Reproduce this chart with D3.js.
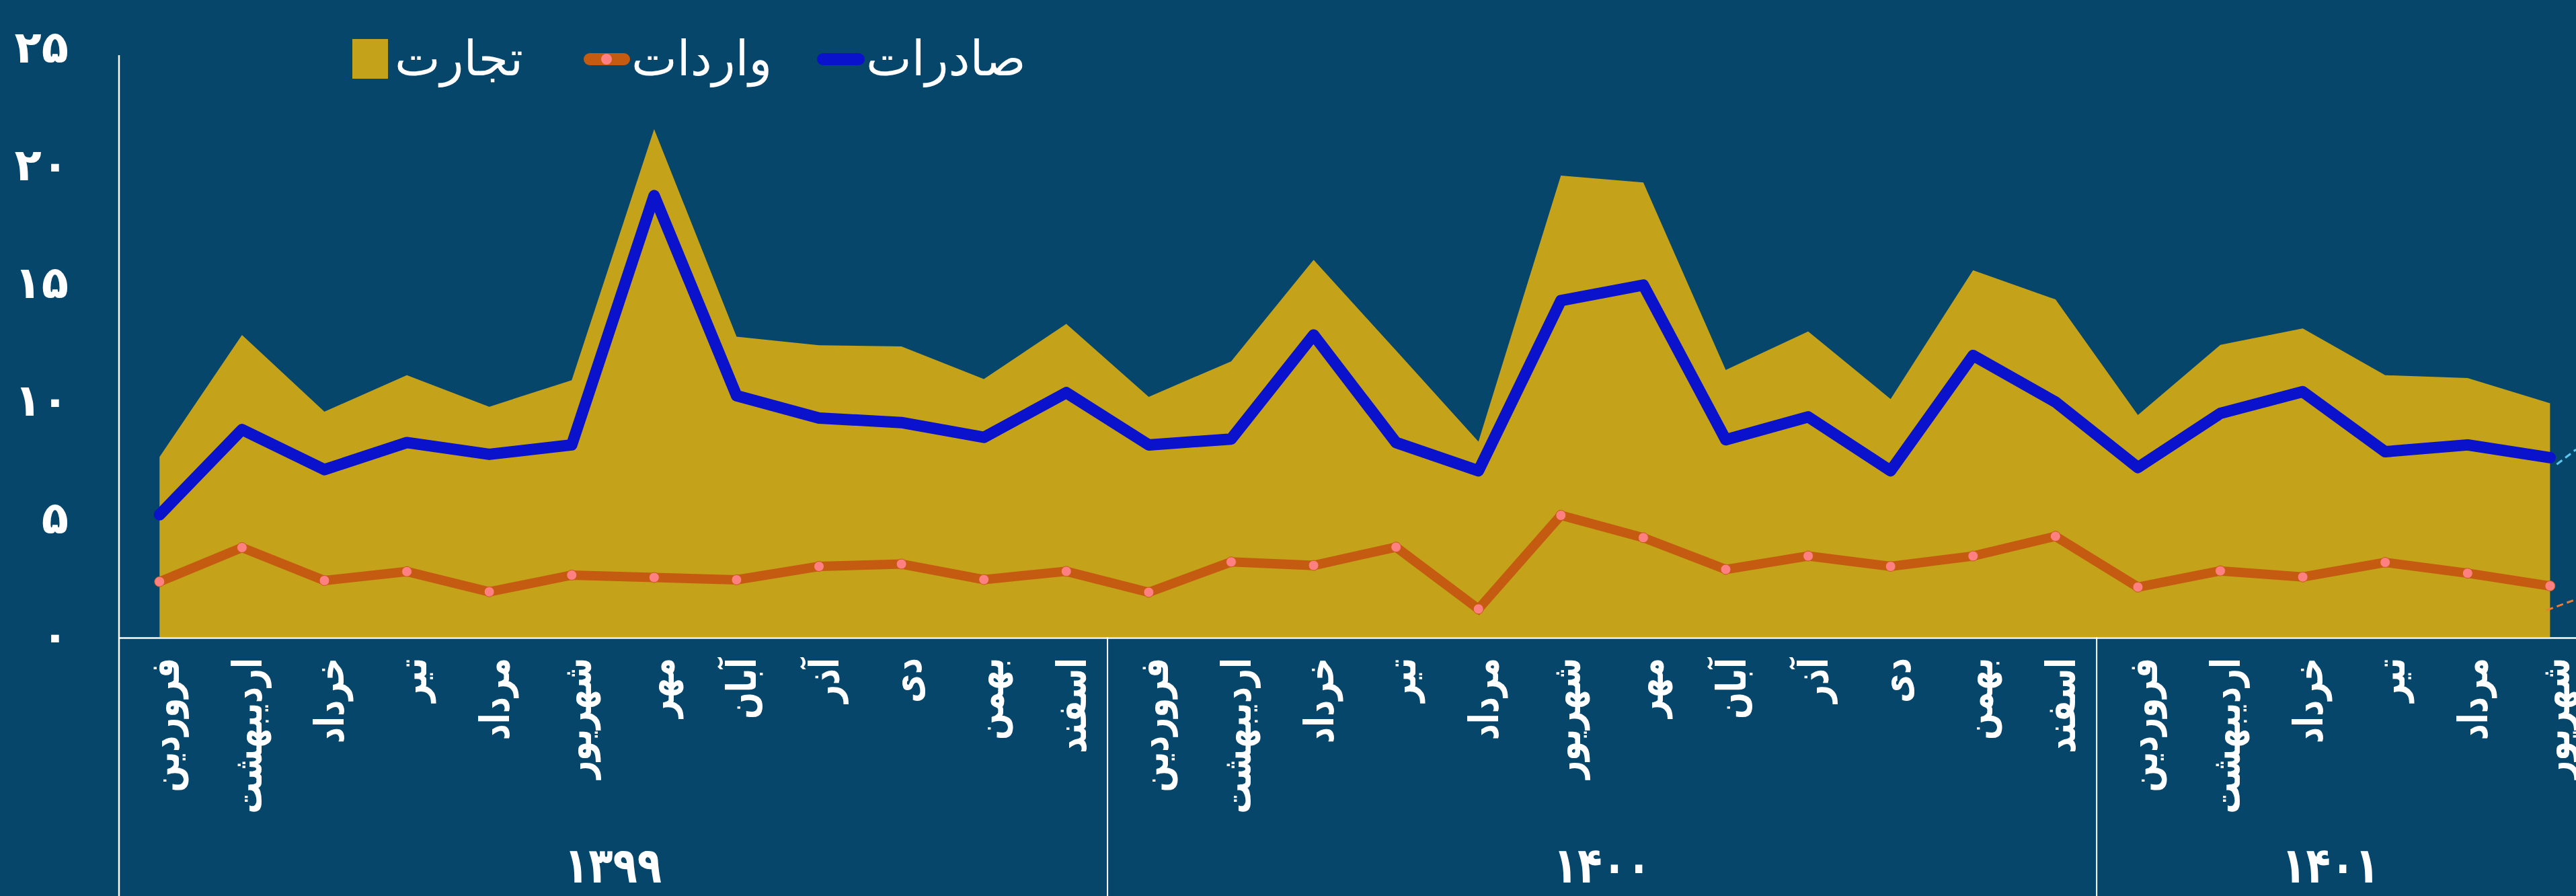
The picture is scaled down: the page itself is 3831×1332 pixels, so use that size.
<!DOCTYPE html>
<html>
<head>
<meta charset="utf-8">
<script src="https://cdn.jsdelivr.net/npm/d3@7"></script>
<style>
  html, body { margin: 0; padding: 0; background: #07466B; }
  svg { display: block; }
</style>
</head>
<body>
<svg id="chart" width="3831" height="1332"></svg>
<script>
// ---------- DATA ----------
const months = ["فروردین","اردیبهشت","خرداد","تیر","مرداد","شهریور","مهر","آبان","آذر","دی","بهمن","اسفند"];
const years = ["۱۳۹۹","۱۴۰۰","۱۴۰۱"];
const yearMonthCounts = [12, 12, 6];
const seriesNames = ["صادرات", "واردات", "تجارت"];
const exportsVals = [5.19,8.81,7.11,8.26,7.76,8.16,18.75,10.25,9.30,9.11,8.48,10.38,
                     8.16,8.41,12.83,8.26,7.06,14.29,14.95,8.38,9.35,7.06,11.96,9.98,
                     7.20,9.50,10.42,7.87,8.16,7.62];
const importsVals = [2.35,3.80,2.40,2.78,1.92,2.63,2.53,2.43,3.00,3.10,2.44,2.79,
                     1.90,3.19,3.04,3.82,1.19,5.17,4.22,2.87,3.44,3.00,3.44,4.28,
                     2.12,2.81,2.55,3.17,2.71,2.17];
const tradeVals   = [7.65,12.83,9.57,11.12,9.78,10.91,21.57,12.76,12.39,12.34,10.96,13.30,
                     10.20,11.71,16.02,12.17,8.30,19.60,19.31,11.34,12.98,10.11,15.58,14.34,
                     9.43,12.41,13.11,11.12,11.00,9.93];
const yTicks = [0, 5, 10, 15, 20, 25];
const yTickLabels = ["۰","۵","۱۰","۱۵","۲۰","۲۵"];

// categories built from months/years
const categories = [];
years.forEach((yr, yi) => {
  for (let m = 0; m < yearMonthCounts[yi]; m++) categories.push({year: yr, month: months[m]});
});

// ---------- LAYOUT ----------
const W = 3831, H = 1332;
const left = 176, step = 122.59;
const baseY = 947, topY = 72;
const C = {
  bg: "#07466B", gold: "#C4A21A", blue: "#0A12CC", orange: "#C55A11",
  pink: "#FF8080", white: "#FFFFFF"
};
const FONT = "'DejaVu Sans', sans-serif";

const svg = d3.select("#chart");
svg.append("rect").attr("width", W).attr("height", H).attr("fill", C.bg);

const x = d3.scaleBand().domain(d3.range(categories.length))
  .range([left, left + step * categories.length]).paddingInner(0).paddingOuter(0);
const cx = i => x(i) + x.bandwidth() / 2;
const y = d3.scaleLinear().domain([0, 25]).range([baseY, topY]);

// ---------- TRADE AREA ----------
const area = d3.area().x((d, i) => cx(i)).y0(y(0)).y1(d => y(d));
svg.append("path").datum(tradeVals).attr("d", area).attr("fill", C.gold);

// ---------- IMPORTS LINE ----------
const line = d3.line().x((d, i) => cx(i)).y(d => y(d));
svg.append("path").datum(importsVals).attr("d", line)
  .attr("fill", "none").attr("stroke", C.orange).attr("stroke-width", 14)
  .attr("stroke-linejoin", "miter").attr("stroke-linecap", "round");
svg.append("g").selectAll("circle").data(importsVals).join("circle")
  .attr("cx", (d, i) => cx(i)).attr("cy", d => y(d)).attr("r", 7.5)
  .attr("fill", C.pink).attr("stroke", C.orange).attr("stroke-width", 1);

// ---------- EXPORTS LINE ----------
svg.append("path").datum(exportsVals).attr("d", line)
  .attr("fill", "none").attr("stroke", C.blue).attr("stroke-width", 17)
  .attr("stroke-linejoin", "round").attr("stroke-linecap", "round");

// trailing dashed leader stubs at the right edge
const last = categories.length - 1;
svg.append("line")
  .attr("x1", cx(last) + 10).attr("y1", y(exportsVals[last]) + 10)
  .attr("x2", W).attr("y2", y(exportsVals[last]) - 12)
  .attr("stroke", "#5BC8F2").attr("stroke-width", 3).attr("stroke-dasharray", "10,6");
svg.append("line")
  .attr("x1", cx(last) - 5).attr("y1", y(importsVals[last]) + 36)
  .attr("x2", W).attr("y2", y(importsVals[last]) + 20)
  .attr("stroke", "#ED7D31").attr("stroke-width", 3).attr("stroke-dasharray", "10,6");

// ---------- AXES ----------
const axisG = svg.append("g");
axisG.append("line").attr("x1", left + 1).attr("x2", left + 1).attr("y1", 82).attr("y2", H)
  .attr("stroke", C.white).attr("stroke-width", 2.5);
axisG.append("line").attr("x1", left).attr("x2", W).attr("y1", baseY + 1.5).attr("y2", baseY + 1.5)
  .attr("stroke", C.white).attr("stroke-width", 2.5);

// year separators
let acc = 0;
const yearStarts = [];
yearMonthCounts.forEach(n => { yearStarts.push(acc); acc += n; });
yearStarts.slice(1).forEach(s => {
  axisG.append("line").attr("x1", x(s)).attr("x2", x(s)).attr("y1", baseY).attr("y2", H)
    .attr("stroke", C.white).attr("stroke-width", 2);
});

// y tick labels
svg.append("g").selectAll("text").data(yTicks).join("text")
  .attr("x", 102).attr("y", d => y(d)).attr("dy", "0.32em")
  .attr("text-anchor", "end").attr("fill", C.white)
  .attr("font-family", FONT).attr("font-weight", "bold").attr("font-size", 66)
  .text((d, i) => yTickLabels[i]);

// month labels (rotated, condensed like the original heavy narrow face)
svg.append("g").selectAll("text").data(categories).join("text")
  .attr("transform", (d, i) => `translate(${cx(i) + 8},978) rotate(-90) scale(0.78,1)`)
  .attr("dy", "0.35em")
  .attr("text-anchor", "end").attr("fill", C.white)
  .attr("font-family", FONT).attr("font-weight", "bold").attr("font-size", 60)
  .text(d => d.month);

// year labels
svg.append("g").selectAll("text").data(years).join("text")
  .attr("transform", (d, i) => {
    const s = yearStarts[i], e = s + yearMonthCounts[i];
    const mx = (x(s) + Math.min(x(e - 1) + x.bandwidth(), W + 40)) / 2 - (i === 2 ? 20 : 0);
    return `translate(${mx},1312) scale(0.85,1.05)`;
  })
  .attr("text-anchor", "middle").attr("fill", C.white)
  .attr("font-family", FONT).attr("font-weight", "bold").attr("font-size", 70)
  .text(d => d);

// ---------- LEGEND ----------
const lg = svg.append("g");
const legTextY = 112, legFS = 72;
// trade
lg.append("rect").attr("x", 524).attr("y", 58).attr("width", 53).attr("height", 59).attr("fill", C.gold);
lg.append("text").attr("x", 587).attr("y", legTextY).attr("fill", C.white)
  .attr("font-family", FONT).attr("font-size", legFS).text(seriesNames[2]);
// imports
lg.append("rect").attr("x", 868).attr("y", 79).attr("width", 69).attr("height", 18).attr("rx", 9)
  .attr("fill", C.orange);
lg.append("circle").attr("cx", 902).attr("cy", 88).attr("r", 8).attr("fill", C.pink);
lg.append("text").attr("x", 939).attr("y", legTextY).attr("fill", C.white)
  .attr("font-family", FONT).attr("font-size", legFS).text(seriesNames[1]);
// exports
lg.append("rect").attr("x", 1215).attr("y", 79).attr("width", 71).attr("height", 18).attr("rx", 9)
  .attr("fill", C.blue);
lg.append("text").attr("x", 1288).attr("y", legTextY).attr("fill", C.white)
  .attr("font-family", FONT).attr("font-size", legFS).text(seriesNames[0]);
</script>
</body>
</html>
